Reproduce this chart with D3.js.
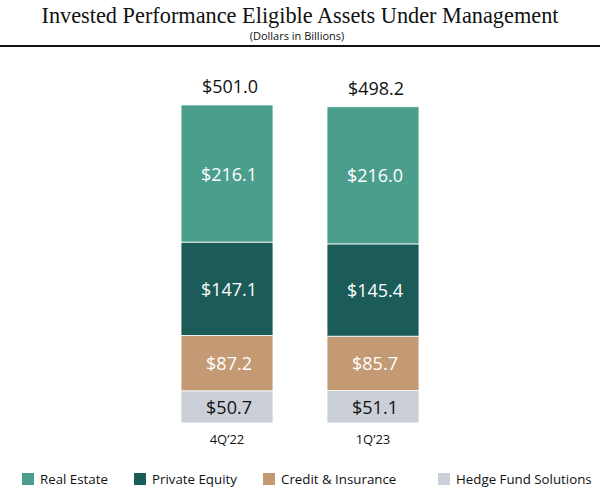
<!DOCTYPE html>
<html>
<head>
<meta charset="utf-8">
<script src="https://cdn.jsdelivr.net/npm/d3@7"></script>
<style>
  body { margin: 0; background: #fff; }
  svg { display: block; }
</style>
</head>
<body>
<svg id="chart" width="600" height="491"></svg>
<script>
// data
const periods = ['4Q\u201922', '1Q\u201923'];
const series = ['Real Estate', 'Private Equity', 'Credit & Insurance', 'Hedge Fund Solutions'];
const realEstate = [216.1, 216.0];
const privateEquity = [147.1, 145.4];
const creditInsurance = [87.2, 85.7];
const hedgeFund = [50.7, 51.1];
const totals = [501.0, 498.2];

const colors = ['#4b9e8b', '#1b5c59', '#c39a74', '#cbcfd8'];
const labelColors = ['#ffffff', '#ffffff', '#ffffff', '#111111'];

const svg = d3.select('#chart');
const sans = "'Open Sans', 'Noto Sans', sans-serif";

// title block
svg.append('text')
  .attr('x', 300).attr('y', 23)
  .attr('text-anchor', 'middle')
  .attr('font-family', "'Liberation Serif', 'DejaVu Serif', serif")
  .attr('font-size', 22.3)
  .attr('fill', '#111')
  .text('Invested Performance Eligible Assets Under Management');

svg.append('text')
  .attr('x', 297).attr('y', 40)
  .attr('text-anchor', 'middle')
  .attr('font-family', sans)
  .attr('font-size', 11)
  .attr('fill', '#111')
  .text('(Dollars in Billions)');

svg.append('line')
  .attr('x1', 0).attr('x2', 600)
  .attr('y1', 46).attr('y2', 46)
  .attr('stroke', '#111')
  .attr('stroke-width', 2);

// stacked table
const rows = periods.map((p, i) => ({
  period: p,
  'Real Estate': realEstate[i],
  'Private Equity': privateEquity[i],
  'Credit & Insurance': creditInsurance[i],
  'Hedge Fund Solutions': hedgeFund[i],
  total: totals[i],
}));

const stack = d3.stack().keys(series.slice().reverse());
const layers = stack(rows);

const x = d3.scaleBand()
  .domain(periods)
  .range([127, 473])
  .paddingInner(0.37)
  .paddingOuter(0.37);

const y = d3.scaleLinear()
  .domain([0, 501.0])
  .range([423, 105]);

const g = svg.append('g');

layers.forEach((layer) => {
  const si = series.indexOf(layer.key);
  const lg = g.append('g');
  lg.selectAll('rect')
    .data(layer)
    .enter().append('rect')
    .attr('x', (d) => x(d.data.period))
    .attr('width', x.bandwidth())
    .attr('y', (d) => y(d[1]))
    .attr('height', (d) => y(d[0]) - y(d[1]))
    .attr('fill', colors[si])
    .attr('stroke', '#fff')
    .attr('stroke-width', 0.8);

  lg.selectAll('text')
    .data(layer)
    .enter().append('text')
    .attr('x', (d) => x(d.data.period) + x.bandwidth() / 2 + 2)
    .attr('y', (d) => (y(d[0]) + y(d[1])) / 2 + 7)
    .attr('text-anchor', 'middle')
    .attr('font-family', sans)
    .attr('font-size', 18)
    .attr('fill', labelColors[si])
    .text((d) => '$' + d3.format('.1f')(d.data[layer.key]));
});

// totals
g.selectAll('.total')
  .data(rows)
  .enter().append('text')
  .attr('class', 'total')
  .attr('x', (d) => x(d.period) + x.bandwidth() / 2 + 3)
  .attr('y', (d) => y(d.total) - 12)
  .attr('text-anchor', 'middle')
  .attr('font-family', sans)
  .attr('font-size', 18)
  .attr('fill', '#111')
  .text((d) => '$' + d3.format('.1f')(d.total));

// category axis (labels only)
const xAxis = d3.axisBottom(x).tickSize(0).tickPadding(11.5);
const ax = svg.append('g')
  .attr('transform', 'translate(0,423)')
  .call(xAxis);
ax.select('.domain').remove();
ax.selectAll('text')
  .attr('font-family', sans)
  .attr('font-size', 13)
  .attr('fill', '#111');

// legend
const legendX = [22, 134, 263, 438];
const legend = svg.append('g');
series.forEach((s, i) => {
  legend.append('rect')
    .attr('x', legendX[i]).attr('y', 473)
    .attr('width', 12).attr('height', 12)
    .attr('fill', colors[i]);
  legend.append('text')
    .attr('x', legendX[i] + 18).attr('y', 484)
    .attr('font-family', sans)
    .attr('font-size', 13.3)
    .attr('fill', '#111')
    .text(s);
});
</script>
</body>
</html>
